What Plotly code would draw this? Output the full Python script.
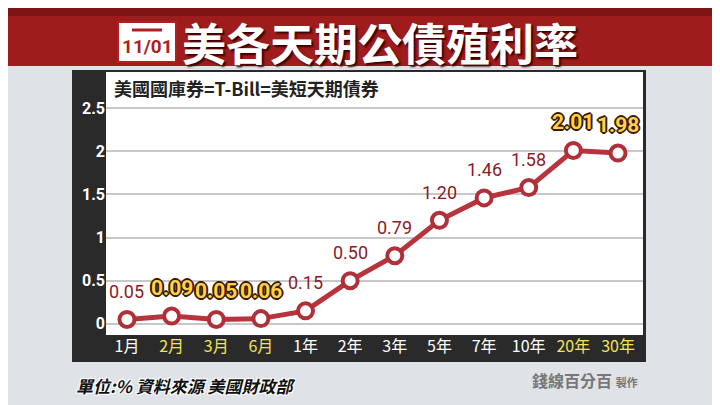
import plotly.graph_objects as go

terms = ["1月", "2月", "3月", "6月", "1年", "2年", "3年", "5年", "7年", "10年", "20年", "30年"]
yields = [0.05, 0.09, 0.05, 0.06, 0.15, 0.50, 0.79, 1.20, 1.46, 1.58, 2.01, 1.98]
labels = ["0.05", "0.09", "0.05", "0.06", "0.15", "0.50", "0.79", "1.20", "1.46", "1.58", "2.01", "1.98"]
highlight = [False, True, True, True, False, False, False, False, False, False, True, True]

# page body has an 8px margin, so work in reference pixels shifted by 8
OFF = 8
W, H = 712, 397
def px_x(x): return (x - OFF) / W
def px_y(y): return 1 - (y - OFF) / H

fig = go.Figure()

fig.add_trace(go.Scatter(
    x=terms, y=yields, mode="lines+markers",
    line=dict(color="#b8343c", width=5),
    marker=dict(size=15, color="white", line=dict(color="#b0303a", width=4)),
    hoverinfo="skip", showlegend=False,
))

outline_dark = "1px 1px 0 #3a1a00, -1px -1px 0 #3a1a00, 1px -1px 0 #3a1a00, -1px 1px 0 #3a1a00, 0 2px 0 #3a1a00, 2px 0 0 #3a1a00, -2px 0 0 #3a1a00, 0 -2px 0 #3a1a00"
annotations = []
for t, v, l, h in zip(terms, yields, labels, highlight):
    if h:
        font = dict(family="Liberation Sans Narrow, Roboto", size=21, color="#ffd24a",
                    weight="bold", shadow=outline_dark)
    else:
        font = dict(family="Liberation Sans Narrow, Roboto", size=18, color="#8c1a26")
    annotations.append(dict(x=t, y=v, text=l, showarrow=False, yshift=28, font=font))

tick_text = [f'<span style="color:{"#f2e45a" if h else "white"}">{t}</span>' for t, h in zip(terms, highlight)]

shapes = [
    dict(type="rect", xref="paper", yref="paper", x0=0, x1=1, y0=px_y(66), y1=1,
         fillcolor="#9e1c1c", line_width=0, layer="below"),
    dict(type="rect", xref="paper", yref="paper", x0=0, x1=1, y0=px_y(16), y1=1,
         fillcolor="#7e1414", line_width=0, layer="below"),
    dict(type="rect", xref="paper", yref="paper", x0=px_x(72), x1=px_x(646), y0=px_y(362), y1=px_y(70),
         fillcolor="#2a2a2a", line_width=0, layer="below"),
    dict(type="rect", xref="paper", yref="paper", x0=px_x(106), x1=px_x(643), y0=px_y(335), y1=px_y(72),
         fillcolor="white", line_width=0, layer="below"),
    dict(type="rect", xref="paper", yref="paper", x0=px_x(118), x1=px_x(176), y0=px_y(62), y1=px_y(22),
         fillcolor="white", line=dict(color="#b01e1e", width=2), layer="below"),
    dict(type="line", xref="paper", yref="paper", x0=px_x(132), x1=px_x(162), y0=px_y(30), y1=px_y(30),
         line=dict(color="#b01e1e", width=3), layer="below"),
]

annotations += [
    dict(text="11/01", x=px_x(147), y=px_y(47), xref="paper", yref="paper", showarrow=False,
         xanchor="center", yanchor="middle",
         font=dict(family="Liberation Sans Narrow, Roboto", size=19, color="#b01e1e", weight="bold")),
    dict(text="美各天期公債殖利率", x=px_x(180), y=px_y(42), xref="paper", yref="paper",
         xanchor="left", yanchor="middle", showarrow=False,
         font=dict(family="Noto Sans CJK TC", size=44, color="white", weight="bold",
                   shadow="2px 2px 2px #3a0000")),
    dict(text="美國國庫券=T-Bill=美短天期債券", x=px_x(112), y=px_y(88), xref="paper", yref="paper",
         xanchor="left", yanchor="middle", showarrow=False,
         font=dict(family="Noto Sans CJK TC", size=18, color="#222", weight="bold")),
    dict(text="<i>單位:% 資料來源 美國財政部</i>", x=px_x(74), y=px_y(385), xref="paper", yref="paper",
         xanchor="left", yanchor="middle", showarrow=False,
         font=dict(family="Noto Sans CJK TC", size=17, color="#111", weight="bold",
                   shadow="1px 1px 0 white, -1px -1px 0 white, 1px -1px 0 white, -1px 1px 0 white")),
    dict(text="錢線百分百 <span style='font-size:11px'>製作</span>", x=px_x(640), y=px_y(380), xref="paper", yref="paper",
         xanchor="right", yanchor="middle", showarrow=False,
         font=dict(family="Noto Sans CJK TC", size=16, color="#777", weight="bold")),
]

fig.update_layout(
    width=W, height=H,
    margin=dict(l=0, r=0, t=0, b=0),
    paper_bgcolor="#dfe2e6",
    plot_bgcolor="white",
    shapes=shapes,
    annotations=annotations,
    xaxis=dict(domain=[px_x(106), px_x(643)], range=[-0.47, 11.56],
               tickvals=terms, ticktext=tick_text, showgrid=False, zeroline=False,
               tickfont=dict(family="Noto Sans CJK TC", size=16, color="white"), ticks=""),
    yaxis=dict(domain=[px_y(335), px_y(72)], range=[-0.13, 2.92],
               tickvals=[0, 0.5, 1, 1.5, 2, 2.5], ticktext=["0", "0.5", "1", "1.5", "2", "2.5"],
               gridcolor="#c8c8c8", gridwidth=2, zeroline=False,
               tickfont=dict(family="Roboto", size=16, color="white", weight="bold"), ticks=""),
)

fig.write_html("out.html")
